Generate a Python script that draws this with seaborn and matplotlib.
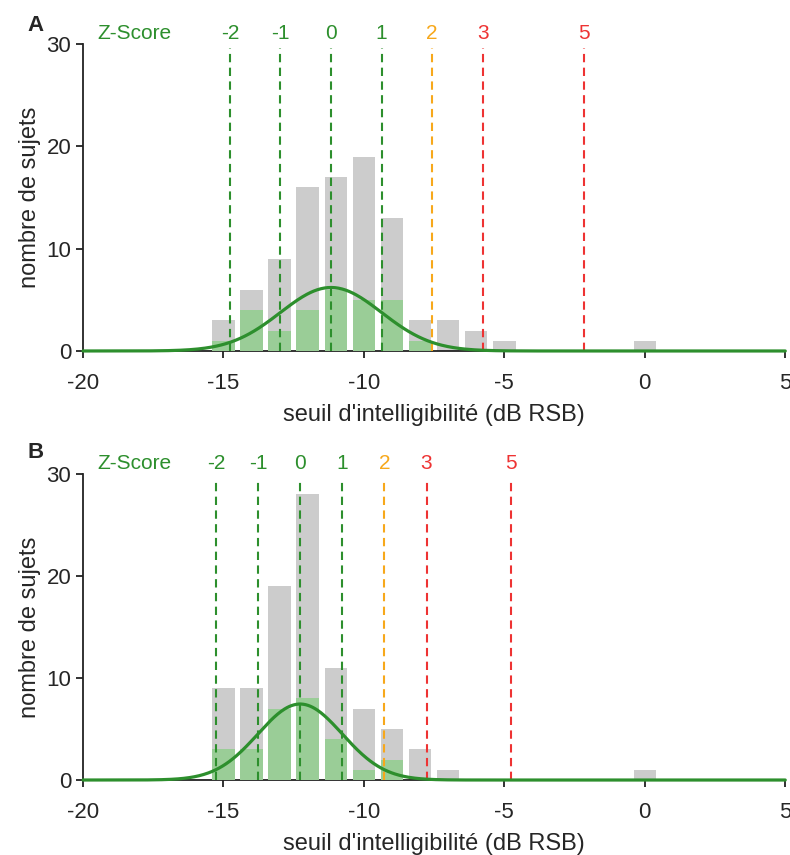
import numpy as np
import pandas as pd
import matplotlib.pyplot as plt
import seaborn as sns

# panel A : counts per 1 dB bin (grey = all subjects, green = reference group)
bins_a = [-15, -14, -13, -12, -11, -10, -9, -8, -7, -6, -5, 0]
total_a = [3, 6, 9, 16, 17, 19, 13, 3, 3, 2, 1, 1]
green_a = [1, 4, 2, 4, 6, 5, 5, 1, 0, 0, 0, 0]

# panel B
bins_b = [-15, -14, -13, -12, -11, -10, -9, -8, -7, 0]
total_b = [9, 9, 19, 28, 11, 7, 5, 3, 1, 1]
green_b = [3, 3, 7, 8, 4, 1, 2, 0, 0, 0]

# normal fit of the green group (mean, sd, n)
mean_a, sd_a = -11.17, 1.80
mean_b, sd_b = -12.27, 1.50
n_green = 28

z_scores = [-2, -1, 0, 1, 2, 3, 5]
z_labels = ["-2", "-1", "0", "1", "2", "3", "5"]

GREY = "#cccccc"
LIGHT_GREEN = "#9acd97"
GREEN = "#2d8f2d"
Z_COLORS = [GREEN, GREEN, GREEN, GREEN, "#f7a81b", "#ee3333", "#ee3333"]

sns.set_style("ticks")
plt.rcParams["font.family"] = ["Liberation Sans", "DejaVu Sans"]
plt.rcParams["axes.unicode_minus"] = False

fig = plt.figure(figsize=(7.9, 8.55), dpi=100)
ax_a = fig.add_axes([0.105, 0.5895, 0.889, 0.359])
ax_b = fig.add_axes([0.105, 0.0877, 0.889, 0.358])

panels = [
    (ax_a, "A", bins_a, total_a, green_a, mean_a, sd_a, 0.970),
    (ax_b, "B", bins_b, total_b, green_b, mean_b, sd_b, 0.471),
]

grid = np.linspace(-20, 5, 600)

for ax, letter, bins, total, green, mu, sd, ytxt in panels:
    sns.histplot(x=bins, weights=total, discrete=True, shrink=0.8,
                 color=GREY, alpha=1, edgecolor="none", ax=ax, zorder=2)
    sns.histplot(x=bins, weights=green, discrete=True, shrink=0.8,
                 color=LIGHT_GREEN, alpha=1, edgecolor="none", ax=ax, zorder=3)

    #fitted normal curve scaled to group size
    fit = n_green / (sd * np.sqrt(2 * np.pi)) * np.exp(-0.5 * ((grid - mu) / sd) ** 2)
    curve = pd.DataFrame({"x": grid, "y": fit})
    sns.lineplot(data=curve, x="x", y="y", color=GREEN, linewidth=2.3,
                 ax=ax, zorder=5, clip_on=False)

    #z-score markers
    for z, lab, c in zip(z_scores, z_labels, Z_COLORS):
        xz = mu + z * sd
        ax.plot([xz, xz], [0, 29.6], color=c, linewidth=1.5,
                linestyle=(0, (4, 2.6)), zorder=4, clip_on=False)
        ax.text(xz, 31.0, lab, color=c, fontsize=15, ha="center",
                va="center", clip_on=False)
    ax.text(-18.15, 31.0, "Z-Score", color=GREEN, fontsize=15,
            ha="center", va="center", clip_on=False)

    ax.set_xlim(-20, 5)
    ax.set_ylim(0, 30)
    ax.set_xticks([-20, -15, -10, -5, 0, 5])
    ax.set_yticks([0, 10, 20, 30])
    ax.set_xlabel("seuil d'intelligibilité (dB RSB)", fontsize=17, labelpad=7)
    ax.set_ylabel("nombre de sujets", fontsize=17)
    ax.tick_params(labelsize=16, length=5, width=1.3, color="#222222")
    ax.tick_params(axis="x", pad=11)
    for s in ["left", "bottom"]:
        ax.spines[s].set_linewidth(1.3)
        ax.spines[s].set_color("#222222")
    sns.despine(ax=ax)

    fig.text(0.045, ytxt, letter, fontsize=16, fontweight="bold",
             ha="center", va="center")

plt.savefig("out.png", dpi=100)
